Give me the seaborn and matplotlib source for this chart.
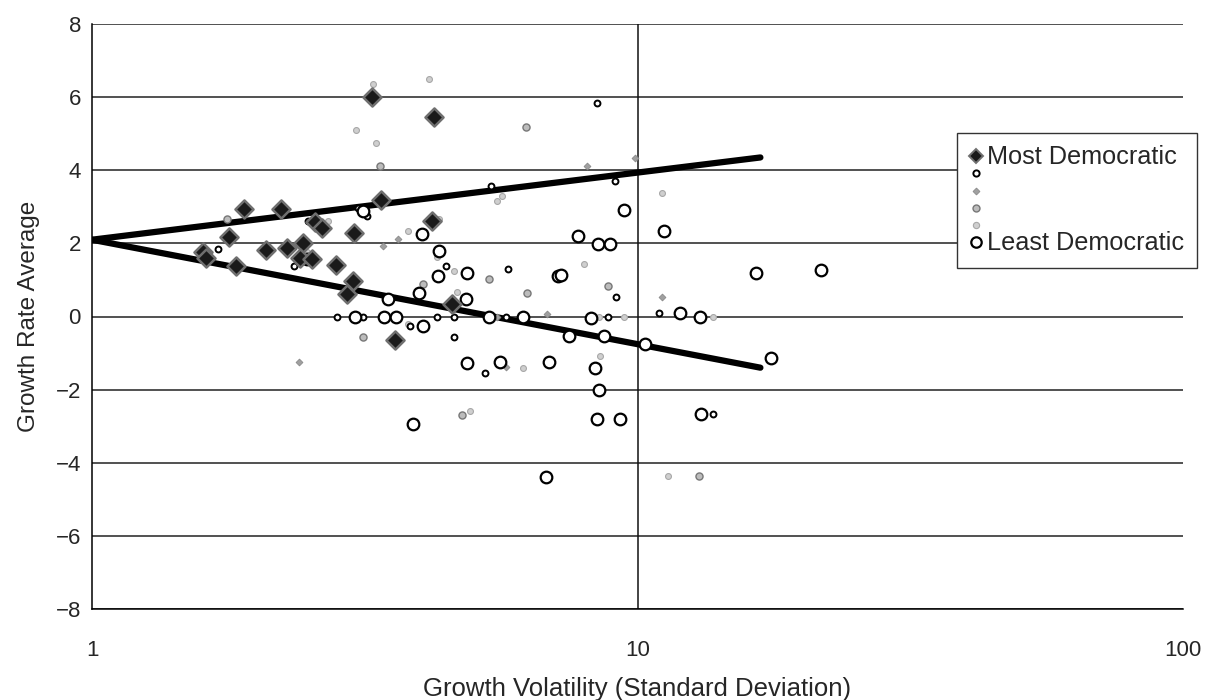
import matplotlib
matplotlib.use("Agg")
import matplotlib.pyplot as plt
import numpy as np
import pandas as pd
import seaborn as sns
from matplotlib.lines import Line2D
from matplotlib.ticker import FixedLocator, FixedFormatter, NullLocator

# Most democratic quintile (dark diamonds)
most_x = [3.26, 4.24, 1.90, 2.22, 3.39, 1.78, 1.60, 1.62, 1.84, 2.08, 2.28, 2.44,
          2.41, 2.53, 2.56, 2.64, 3.02, 2.80, 3.01, 2.93, 4.20, 4.57, 3.59]
most_y = [6.00, 5.45, 2.94, 2.94, 3.20, 2.17, 1.76, 1.60, 1.38, 1.82, 1.87, 2.00,
          1.60, 1.57, 2.58, 2.42, 2.28, 1.41, 0.97, 0.61, 2.61, 0.34, -0.64]

# second quintile (small open circles)
q2_x = [1.70, 2.35, 2.49, 3.19, 3.07, 2.81, 3.14, 4.29, 4.61, 4.46, 4.61, 3.83,
        5.79, 9.13, 5.74, 8.83, 5.25, 10.95, 13.75, 8.43, 5.39, 9.10]
q2_y = [1.84, 1.38, 2.61, 2.75, 2.96, 0.00, 0.00, 0.00, 0.00, 1.38, -0.56, -0.26,
        1.30, 0.53, 0.00, 0.00, -1.54, 0.09, -2.66, 5.84, 3.57, 3.70]

# third quintile (tiny grey marks)
q3_x = [8.08, 9.89, 3.64, 3.42, 2.40, 5.53, 6.82, 5.74, 11.09]
q3_y = [4.11, 4.33, 2.12, 1.93, -1.24, 0.00, 0.07, -1.38, 0.53]

# fourth quintile (hatched grey circles)
q4_x = [1.77, 3.37, 6.25, 4.04, 3.14, 5.34, 6.27, 8.83, 4.77, 12.97]
q4_y = [2.66, 4.11, 5.19, 0.89, -0.56, 1.03, 0.64, 0.83, -2.69, -4.36]

# fifth quintile (light grey marks)
q5_x = [3.27, 4.15, 3.05, 3.31, 11.09, 5.53, 5.65, 2.71, 3.80, 4.33, 4.29, 4.61,
        4.67, 2.48, 3.80, 7.98, 8.50, 9.45, 6.17, 8.54, 4.93, 13.75, 11.37]
q5_y = [6.35, 6.49, 5.10, 4.74, 3.37, 3.15, 3.29, 2.61, 2.34, 2.66, 1.63, 1.24,
        0.67, 1.76, -0.20, 1.43, 0.00, 0.00, -1.41, -1.08, -2.58, 0.00, -4.36]

# Least democratic quintile (large open circles)
least_x = [3.14, 4.03, 4.33, 2.48, 4.31, 4.87, 3.98, 4.85, 3.49, 3.03, 3.43, 3.61,
           4.04, 7.15, 7.24, 5.34, 6.17, 8.22, 7.49, 8.68, 10.3, 4.87, 5.60, 6.88,
           8.36, 8.50, 3.88, 8.43, 9.29, 11.97, 13.0, 13.07, 9.45, 7.78, 8.47, 8.91,
           11.19, 16.5, 21.7, 17.6, 6.80]
least_y = [2.88, 2.25, 1.79, 1.57, 1.10, 1.19, 0.64, 0.48, 0.48, 0.00, 0.00, 0.00,
           -0.26, 1.10, 1.13, 0.00, 0.00, -0.03, -0.53, -0.53, -0.75, -1.27, -1.24, -1.24,
           -1.41, -2.00, -2.94, -2.80, -2.80, 0.10, 0.00, -2.66, 2.91, 2.20, 1.98, 1.98,
           2.34, 1.19, 1.27, -1.13, -4.39]

# fitted trend lines (end points)
trend_x = [1, 16.8]
upper_y = [2.1, 4.35]
lower_y = [2.1, -1.4]

y_ticks = [-8, -6, -4, -2, 0, 2, 4, 6, 8]
x_ticks = [1, 10, 100]
x_tick_labels = ["1", "10", "100"]

sns.set_style("white")
plt.rcParams["font.family"] = ["Liberation Sans", "DejaVu Sans"]

fig = plt.figure(figsize=(12.13, 7.0), dpi=100)
ax = fig.add_axes([92 / 1213, 1 - 609 / 700, 1091 / 1213, 585 / 700])

for yv in y_ticks:
    ax.axhline(yv, color="#222222", lw=1.1, zorder=1)
ax.axvline(10, color="#111111", lw=1.1, zorder=1)

sns.lineplot(x=trend_x, y=upper_y, ax=ax, color="black", lw=4.5, zorder=2)
sns.lineplot(x=trend_x, y=lower_y, ax=ax, color="black", lw=4.5, zorder=2)

styles = [
    (q5_x, q5_y, dict(marker="o", s=18, color="#cfcfcf", edgecolor="#a8a8a8", linewidth=0.8)),
    (q3_x, q3_y, dict(marker="D", s=12, color="#a0a0a0", edgecolor="#8a8a8a", linewidth=0.6)),
    (q4_x, q4_y, dict(marker="o", s=26, color="#bcbcbc", edgecolor="#777777", linewidth=1.0)),
    (q2_x, q2_y, dict(marker="o", s=18, color="white", edgecolor="black", linewidth=1.4)),
    (least_x, least_y, dict(marker="o", s=70, color="white", edgecolor="black", linewidth=1.6)),
    (most_x, most_y, dict(marker="D", s=85, color="#1a1a1a", edgecolor="#6f6f6f", linewidth=1.8)),
]
for i, (xs, ys, kw) in enumerate(styles):
    df = pd.DataFrame({"x": xs, "y": ys})
    sns.scatterplot(data=df, x="x", y="y", ax=ax, zorder=3 + i, **kw)

ax.set_xscale("log")
ax.set_xlim(1, 100)
ax.set_ylim(-8, 8)
ax.xaxis.set_major_locator(FixedLocator(x_ticks))
ax.xaxis.set_major_formatter(FixedFormatter(x_tick_labels))
ax.xaxis.set_minor_locator(NullLocator())
ax.set_yticks(y_ticks)
ax.tick_params(axis="y", direction="out", length=5, width=1, color="black", labelsize=16, pad=3)
ax.tick_params(axis="x", direction="out", length=5, width=1, color="black", labelsize=16, pad=17)

for side in ["top", "right"]:
    ax.spines[side].set_visible(False)
for side in ["left", "bottom"]:
    ax.spines[side].set_color("black")
    ax.spines[side].set_linewidth(1.1)

ax.set_xlabel("Growth Volatility (Standard Deviation)", fontsize=18.5, labelpad=12)
ax.set_ylabel("Growth Rate Average", fontsize=17.5, labelpad=11)

handles = [
    Line2D([], [], ls="", marker="D", ms=7.5, mfc="#1a1a1a", mec="#6f6f6f", mew=1.4),
    Line2D([], [], ls="", marker="o", ms=4.5, mfc="white", mec="black", mew=1.4),
    Line2D([], [], ls="", marker="D", ms=3.5, mfc="#a0a0a0", mec="#8a8a8a", mew=0.6),
    Line2D([], [], ls="", marker="o", ms=5, mfc="#bcbcbc", mec="#777777", mew=1.0),
    Line2D([], [], ls="", marker="o", ms=4.5, mfc="#cfcfcf", mec="#a8a8a8", mew=0.8),
    Line2D([], [], ls="", marker="o", ms=7.5, mfc="white", mec="black", mew=1.6),
]
labels = ["Most Democratic", "", "", "", "", "Least Democratic"]
leg = ax.legend(handles, labels, loc="upper right", bbox_to_anchor=(1.013, 0.814),
                fontsize=18.2, frameon=True, fancybox=False, framealpha=1,
                labelspacing=-0.27, handlelength=0.5, handletextpad=0.2,
                handleheight=0.55, borderpad=0.5, borderaxespad=0)
leg.get_frame().set_edgecolor("#333333")
leg.get_frame().set_linewidth(1.0)
leg.set_zorder(20)

fig.savefig("out.png", dpi=100)
